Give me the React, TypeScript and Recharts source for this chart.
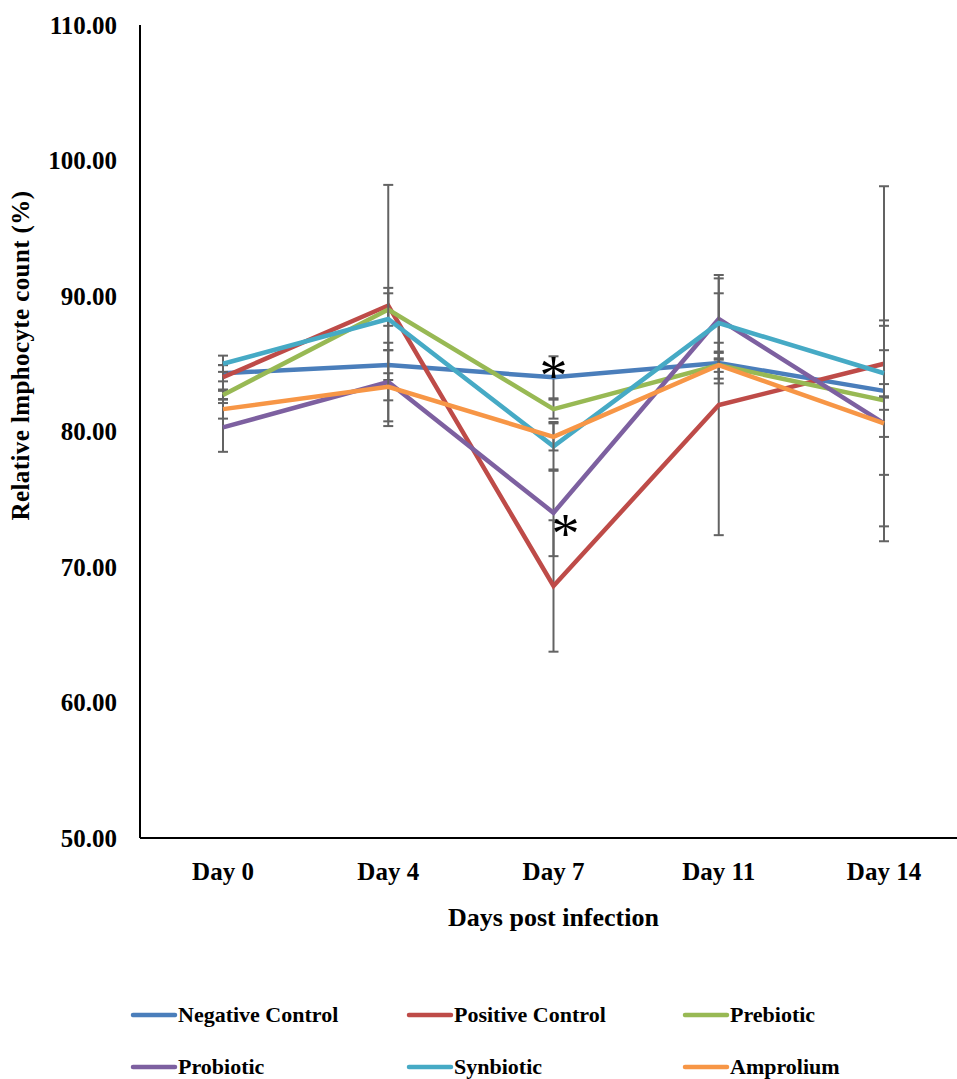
import { LineChart, Line, XAxis, YAxis, ErrorBar, Legend, LabelList } from 'recharts'

const days = ['Day 0', 'Day 4', 'Day 7', 'Day 11', 'Day 14']

const negative = [84.3, 84.9, 84.0, 85.05, 83.0]
const positive = [84.0, 89.3, 68.6, 81.95, 85.0]
const prebiotic = [82.7, 89.0, 81.65, 84.9, 82.3]
const probiotic = [80.3, 83.65, 74.0, 88.3, 80.6]
const synbiotic = [85.0, 88.3, 78.9, 88.0, 84.3]
const amprolium = [81.65, 83.3, 79.6, 84.9, 80.6]

const negErr = [0.6, 1.1, 1.55, 1.5, 0.5]
const posErr = [0.9, 8.9, 4.85, 9.6, 13.1]
const preErr = [0.3, 1.2, 0.7, 1.0, 5.5]
const proErr = [1.8, 2.9, 3.2, 3.0, 7.6]
const synErr = [0.6, 2.3, 1.8, 2.2, 1.7]
const ampErr = [0.7, 1.0, 1.0, 0.5, 1.0]

// significance marks (asterisks) at Day 7
const negSig = ['', '', '*', '', '']
const proSig = ['', '', '*', '', '']

const yTicks = [50, 60, 70, 80, 90, 100, 110]

const series = [
  { key: 'neg', name: 'Negative Control', color: '#4A7EBB' },
  { key: 'pos', name: 'Positive Control', color: '#BE4B48' },
  { key: 'pre', name: 'Prebiotic', color: '#98B954' },
  { key: 'pro', name: 'Probiotic', color: '#7D60A0' },
  { key: 'syn', name: 'Synbiotic', color: '#46AAC5' },
  { key: 'amp', name: 'Amprolium', color: '#F79646' },
]

const data = days.map((d, i) => ({
  day: d,
  neg: negative[i], negErr: negErr[i], negSig: negSig[i],
  pos: positive[i], posErr: posErr[i],
  pre: prebiotic[i], preErr: preErr[i],
  pro: probiotic[i], proErr: proErr[i], proSig: proSig[i],
  syn: synbiotic[i], synErr: synErr[i],
  amp: amprolium[i], ampErr: ampErr[i],
}))

const FONT = '"Liberation Serif", "Times New Roman", serif'

const Star = (dx: number, dy: number) => (props: any) => {
  const { x, y, value } = props
  if (!value) return null
  return (
    <text x={x + dx} y={y + dy} textAnchor="middle" fontFamily={FONT} fontSize={56} fill="#000">
      {value}
    </text>
  )
}

const YTitle = (props: any) => {
  const vb = props.viewBox || { x: 0, y: 0, width: 140, height: 813 }
  const cx = 20
  const cy = vb.y + vb.height / 2 - 76
  return (
    <text
      transform={`translate(${cx}, ${cy}) rotate(-90)`}
      textAnchor="middle"
      dominantBaseline="central"
      fontFamily={FONT}
      fontWeight="bold"
      fontSize={25}
      letterSpacing={0.4}
      fill="#000"
    >
      Relative lmphocyte count (%)
    </text>
  )
}

const LegendBox = () => (
  <div style={{ display: 'flex', flexWrap: 'wrap', width: 830 }}>
    {series.map((s, i) => (
      <div key={s.key} style={{ width: 276, height: i < 3 ? 50 : 53, display: 'flex', alignItems: 'center' }}>
        <svg width={48} height={8} style={{ display: 'block' }}>
          <line x1={3} y1={4} x2={45} y2={4} stroke={s.color} strokeWidth={4.5} strokeLinecap="round" />
        </svg>
        <span style={{ fontFamily: FONT, fontWeight: 'bold', fontSize: 22, color: '#000' }}>{s.name}</span>
      </div>
    ))}
  </div>
)

export default function App() {
  return (
    <div style={{ position: 'absolute', left: 0, top: 0, width: 957, height: 1079, overflow: 'hidden', background: '#fff' }}>
      <LineChart width={967} height={1079} data={data} margin={{ top: 25, right: 0, bottom: 0, left: 0 }}>
        <XAxis
          dataKey="day"
          height={152}
          padding={{ left: 83, right: 83 }}
          axisLine={{ stroke: '#000', strokeWidth: 2 }}
          tickLine={false}
          tickSize={0}
          tickMargin={24}
          tick={{ fontFamily: FONT, fontWeight: 'bold', fontSize: 25, fill: '#000' }}
          label={{ value: 'Days post infection', position: 'insideTop', offset: 70, style: { fontFamily: FONT, fontWeight: 'bold', fontSize: 26, fill: '#000' } }}
        />
        <YAxis
          width={140}
          domain={[50, 110]}
          ticks={yTicks}
          allowDataOverflow
          axisLine={{ stroke: '#000', strokeWidth: 2 }}
          tickLine={false}
          tickSize={0}
          tickMargin={23}
          tickFormatter={(v: number) => v.toFixed(2)}
          tick={{ fontFamily: FONT, fontWeight: 'bold', fontSize: 25, fill: '#000' }}
          label={<YTitle />}
        />
        <Legend
          verticalAlign="bottom"
          height={89}
          content={<LegendBox />}
          wrapperStyle={{ left: 130, top: 990, width: 830, height: 89 }}
        />
        {series.map((s) => (
          <Line
            key={s.key}
            type="linear"
            dataKey={s.key}
            name={s.name}
            stroke={s.color}
            strokeWidth={4.5}
            dot={false}
            activeDot={false}
            isAnimationActive={false}
          >
            <ErrorBar dataKey={`${s.key}Err`} direction="y" width={5} stroke="#636363" strokeWidth={2} />
            {s.key === 'neg' && <LabelList dataKey="negSig" content={Star(0, 18)} />}
            {s.key === 'pro' && <LabelList dataKey="proSig" content={Star(12, 40)} />}
          </Line>
        ))}
      </LineChart>
    </div>
  )
}
